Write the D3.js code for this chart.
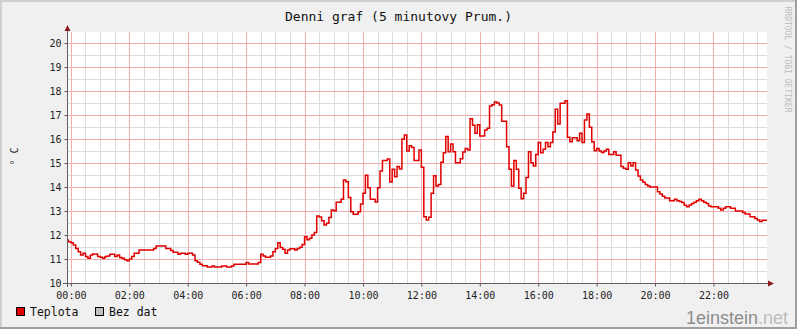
<!DOCTYPE html>
<html>
<head>
<meta charset="UTF-8">
<title>Denni graf</title>
<script src="https://d3js.org/d3.v7.min.js"></script>
<style>
  body { margin: 0; background: #fff; }
  text { font-family: 'DejaVu Sans Mono', monospace; }
</style>
</head>
<body>
<svg id="chart" width="797" height="329"></svg>
<script>
// minutes after midnight where the 5 min average changes, and the value there
const minutes = [-10,-5,0,5,10,15,20,25,30,35,40,45,55,60,65,70,75,80,90,95,100,105,110,115,120,125,130,140,170,175,195,205,210,220,225,235,240,250,255,260,265,270,280,290,295,310,320,330,335,360,365,385,390,395,400,410,415,420,425,430,435,440,445,450,460,465,470,475,480,485,490,495,500,505,510,515,520,525,530,535,540,545,555,560,565,570,575,580,590,595,600,605,610,615,625,630,635,640,650,655,660,665,670,675,680,685,690,695,700,705,715,720,725,730,735,740,745,750,755,760,765,770,775,780,785,790,800,805,810,815,820,825,830,835,840,850,855,860,865,870,875,880,885,895,900,905,910,915,920,925,930,935,940,945,950,955,960,965,970,975,980,985,990,995,1000,1005,1015,1020,1025,1030,1040,1045,1050,1055,1060,1065,1070,1075,1080,1085,1090,1095,1100,1105,1115,1120,1130,1135,1140,1145,1150,1155,1160,1165,1170,1175,1180,1185,1190,1205,1210,1215,1220,1230,1240,1245,1250,1255,1260,1265,1270,1275,1280,1285,1290,1295,1300,1305,1310,1315,1330,1335,1340,1345,1355,1365,1380,1385,1395,1405,1410,1415,1420];
const teplota = [11.79,11.72,11.68,11.58,11.44,11.30,11.17,11.24,11.10,11.03,11.17,11.21,11.10,11.07,11.03,11.10,11.13,11.20,11.10,11.17,11.06,11.03,10.97,10.93,11.00,11.10,11.24,11.38,11.44,11.54,11.44,11.35,11.28,11.20,11.24,11.20,11.24,11.17,10.93,10.86,10.78,10.72,10.67,10.71,10.67,10.71,10.67,10.71,10.78,10.85,10.79,10.85,11.20,11.13,11.07,11.13,11.30,11.44,11.68,11.48,11.41,11.24,11.38,11.43,11.38,11.44,11.49,11.60,11.93,11.80,11.86,12.00,12.10,12.79,12.75,12.59,12.42,12.49,12.73,13.04,13.01,13.36,13.49,14.29,14.22,13.56,12.97,12.86,12.97,13.29,13.74,14.49,13.97,13.49,13.38,13.97,14.67,15.10,15.17,14.21,14.74,14.43,14.85,14.75,16.00,16.17,15.50,15.72,15.65,15.10,15.54,14.82,12.76,12.63,12.74,13.74,14.47,14.04,14.10,15.03,15.43,16.10,15.47,15.79,15.47,15.01,15.18,15.46,15.60,15.54,16.85,16.57,16.24,16.60,16.13,16.38,16.45,17.38,17.43,17.54,17.50,17.42,16.74,15.68,14.74,14.04,15.10,14.74,13.95,13.51,13.74,14.40,15.47,15.01,14.88,15.36,15.86,15.43,15.57,15.86,15.68,15.86,16.29,17.24,16.63,17.49,17.60,16.07,15.89,16.05,15.93,16.24,15.85,16.79,17.04,16.49,15.89,15.51,15.61,15.50,15.44,15.50,15.57,15.36,15.47,15.32,14.85,14.78,14.74,15.01,14.88,15.01,14.71,14.46,14.29,14.20,14.10,14.04,14.00,13.80,13.71,13.62,13.54,13.43,13.49,13.43,13.40,13.35,13.24,13.18,13.25,13.31,13.36,13.43,13.49,13.43,13.36,13.31,13.21,13.18,13.11,13.04,13.11,13.18,13.11,13.00,12.94,12.88,12.76,12.69,12.63,12.56,12.61];
const hourTicks = [0,120,240,360,480,600,720,840,960,1080,1200,1320];
const tempTicks = [10,11,12,13,14,15,16,17,18,19,20];
const legendItems = ["Teplota", "Bez dat"];

const W = 797, H = 329;
const svg = d3.select("#chart");

// background + 3d frame like rrdtool
svg.append("rect").attr("width", W).attr("height", H).attr("fill", "#f0f0f0");
svg.append("rect").attr("x", 0).attr("y", 0).attr("width", W).attr("height", 2).attr("fill", "#cfcfcf");
svg.append("rect").attr("x", 0).attr("y", 0).attr("width", 2).attr("height", H).attr("fill", "#cfcfcf");
svg.append("rect").attr("x", 0).attr("y", H - 2).attr("width", W).attr("height", 2).attr("fill", "#9f9f9f");
svg.append("rect").attr("x", W - 2).attr("y", 0).attr("width", 2).attr("height", H).attr("fill", "#9f9f9f");

const x = d3.scaleLinear().domain([-8, 1430]).range([67, 767]);
const y = d3.scaleLinear().domain([10, 20.46]).range([283, 32]);

// plot area
svg.append("rect")
  .attr("x", x.range()[0]).attr("y", y.range()[1])
  .attr("width", x.range()[1] - x.range()[0])
  .attr("height", y.range()[0] - y.range()[1])
  .attr("fill", "#ffffff");

const grid = svg.append("g").attr("shape-rendering", "crispEdges");
// minor grid (skip the spots where a major line goes)
grid.selectAll("line.vmin").data(d3.range(0, 1430, 30).filter(d => d % 120 != 0)).enter().append("line")
  .attr("x1", d => Math.round(x(d)) + 0.5).attr("x2", d => Math.round(x(d)) + 0.5)
  .attr("y1", y.range()[1]).attr("y2", y.range()[0])
  .attr("stroke", "#dcdcdc");
grid.selectAll("line.hmin").data(d3.range(10.5, 20.5, 1)).enter().append("line")
  .attr("y1", d => Math.round(y(d)) + 0.5).attr("y2", d => Math.round(y(d)) + 0.5)
  .attr("x1", x.range()[0]).attr("x2", x.range()[1])
  .attr("stroke", "#dcdcdc");
// major grid
grid.selectAll("line.vmaj").data(hourTicks).enter().append("line")
  .attr("x1", d => Math.round(x(d)) + 0.5).attr("x2", d => Math.round(x(d)) + 0.5)
  .attr("y1", y.range()[1]).attr("y2", y.range()[0])
  .attr("stroke", "#f2aeae");
grid.selectAll("line.hmaj").data(tempTicks.slice(1)).enter().append("line")
  .attr("y1", d => Math.round(y(d)) + 0.5).attr("y2", d => Math.round(y(d)) + 0.5)
  .attr("x1", x.range()[0]).attr("x2", x.range()[1])
  .attr("stroke", "#f2aeae");

// axes with labels
const xAxis = d3.axisBottom(x).tickValues(hourTicks).tickSize(3).tickPadding(5)
  .tickFormat(d => d3.format("02d")(Math.floor(d / 60)) + ":" + d3.format("02d")(d % 60));
const gx = svg.append("g").attr("transform", "translate(0,283.5)").call(xAxis);
const yAxis = d3.axisLeft(y).tickValues(tempTicks).tickSize(3).tickPadding(3);
const gy = svg.append("g").attr("transform", "translate(67.5,0)").call(yAxis);
[gx, gy].forEach(g => {
  g.select(".domain").remove();
  g.selectAll(".tick line").attr("stroke", "#555");
  g.selectAll("text").attr("font-size", "10px").attr("fill", "#222");
});

// data line
const pts = minutes.map((m, i) => ({ t: m, v: teplota[i] }));
pts.push({ t: x.domain()[1], v: teplota[teplota.length - 1] });
svg.append("clipPath").attr("id", "clip").append("rect")
  .attr("x", 67).attr("y", 30).attr("width", 700).attr("height", 255);
svg.append("path")
  .datum(pts)
  .attr("clip-path", "url(#clip)")
  .attr("fill", "none")
  .attr("stroke", "#e00000")
  .attr("stroke-width", 1.5)
  .attr("d", d3.line().curve(d3.curveStepAfter).x(d => x(d.t)).y(d => y(d.v)));

// axis lines + arrows
svg.append("line").attr("x1", 63).attr("x2", 770).attr("y1", 283.5).attr("y2", 283.5)
  .attr("stroke", "#606060");
svg.append("line").attr("x1", 67.5).attr("x2", 67.5).attr("y1", 287).attr("y2", 29)
  .attr("stroke", "#606060");
svg.append("path").attr("d", "M768,280.5 L774,283.5 L768,286.5 Z").attr("fill", "#8b1a1a");
svg.append("path").attr("d", "M64.5,31 L67.5,25 L70.5,31 Z").attr("fill", "#8b1a1a");

// title
svg.append("text").attr("x", W / 2).attr("y", 20.5).attr("text-anchor", "middle")
  .attr("font-size", "13px").attr("fill", "#111").text("Denni graf (5 minutovy Prum.)");

// y label
svg.append("text").attr("transform", "translate(17.5,156.5) rotate(-90)")
  .attr("text-anchor", "middle").attr("font-size", "10px").attr("fill", "#222").text("° C");

// rrdtool credit
svg.append("text").attr("transform", "translate(784.5,6.5) rotate(90)")
  .attr("font-size", "8px").attr("fill", "#bdbdbd").text("RRDTOOL / TOBI OETIKER");

// legend
const legend = svg.append("g");
const legColors = ["#e00000", "#c0c0c0"];
const legX = [16.5, 95.5];
legendItems.forEach((name, i) => {
  legend.append("rect").attr("x", legX[i]).attr("y", 307.5).attr("width", 8).attr("height", 8)
    .attr("fill", legColors[i]).attr("stroke", "#000");
  legend.append("text").attr("x", legX[i] + 13.5).attr("y", 315.5)
    .attr("font-size", "11.5px").attr("fill", "#111").text(name);
});

// watermark
const wm = svg.append("text").attr("x", 788).attr("y", 324).attr("text-anchor", "end")
  .style("font-family", "'Liberation Sans', Arial, sans-serif").attr("font-size", "18px");
wm.append("tspan").attr("fill", "#8c8c8c").text("1einstein");
wm.append("tspan").attr("fill", "#bcbcbc").text(".net");
</script>
</body>
</html>
